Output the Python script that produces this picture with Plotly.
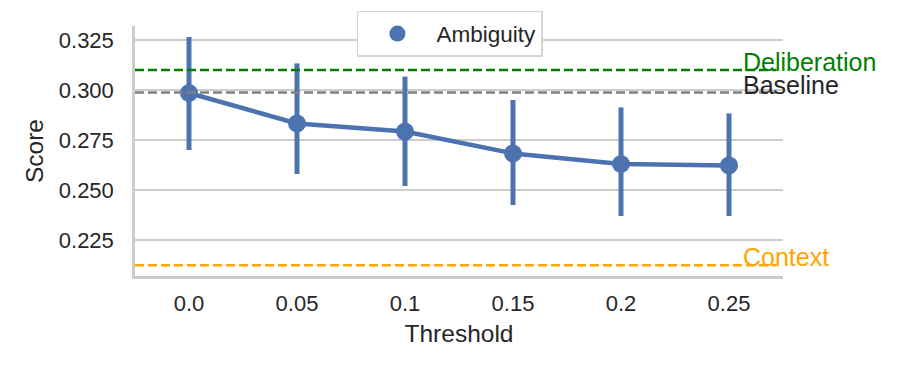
import plotly.graph_objects as go

# values
thresholds = ["0.0", "0.05", "0.1", "0.15", "0.2", "0.25"]
ambiguity_mean = [0.2985, 0.2833, 0.2792, 0.2683, 0.2630, 0.2623]
ambiguity_low = [0.2700, 0.2580, 0.2520, 0.2425, 0.2370, 0.2370]
ambiguity_high = [0.3265, 0.3133, 0.3067, 0.2950, 0.2913, 0.2883]

ref_names = ["Deliberation", "Baseline", "Context"]
ref_values = [0.3100, 0.2987, 0.2124]
ref_colors = ["green", "gray", "orange"]
ref_text_colors = ["green", "#262626", "orange"]

blue = "#4c72b0"
font = "Liberation Sans, Arial, sans-serif"

err_plus = [h - m for h, m in zip(ambiguity_high, ambiguity_mean)]
err_minus = [m - l for m, l in zip(ambiguity_mean, ambiguity_low)]

fig = go.Figure()

fig.add_trace(go.Scatter(
    x=thresholds,
    y=ambiguity_mean,
    mode="lines+markers",
    name="Ambiguity",
    line=dict(color=blue, width=4.5),
    marker=dict(color=blue, size=18),
    error_y=dict(type="data", symmetric=False, array=err_plus, arrayminus=err_minus,
                 color=blue, thickness=5, width=0),
    showlegend=False,
))
# legend entry: marker only, as in the reference
fig.add_trace(go.Scatter(
    x=[None], y=[None], mode="markers", name="Ambiguity",
    marker=dict(color=blue, size=18),
))

for name, val, col, tcol in zip(ref_names, ref_values, ref_colors, ref_text_colors):
    fig.add_shape(type="line", xref="paper", x0=0, x1=0.99, yref="y", y0=val, y1=val,
                  line=dict(color=col, width=2.5, dash="9px,4px"), layer="above")
    fig.add_annotation(x=0.935, xref="paper", y=val, yref="y", text=name,
                       showarrow=False, xanchor="left", yanchor="bottom", yshift=-8,
                       font=dict(color=tcol, size=25, family=font))

# the page body adds an 8px margin, so the figure is a little smaller
fig.update_layout(
    width=892, height=367,
    margin=dict(l=127, r=117, t=18, b=99, autoexpand=False),
    plot_bgcolor="white", paper_bgcolor="white",
    font=dict(family=font, color="#262626", size=22),
    legend=dict(x=0.486, xanchor="center", y=0.992, yref="container", yanchor="top",
                bordercolor="#d6d6d6", borderwidth=1.5, bgcolor="white",
                font=dict(size=22.5), itemwidth=68),
    xaxis=dict(
        title=dict(text="Threshold", font=dict(size=24.5), standoff=10),
        type="category", range=[-0.5, 5.5], automargin=False,
        showgrid=False, showline=True, linecolor="#cccccc", linewidth=2.5,
        ticks="", ticklabelstandoff=6, tickfont=dict(size=22),
    ),
    yaxis=dict(
        title=dict(text="Score", font=dict(size=24.5), standoff=9),
        range=[0.207, 0.332], dtick=0.025, tick0=0.225, tickformat=".3f",
        automargin=False,
        showgrid=True, gridcolor="#cccccc", gridwidth=2, zeroline=False,
        showline=True, linecolor="#cccccc", linewidth=2.5,
        ticks="", ticklabelstandoff=14, tickfont=dict(size=22),
    ),
)

fig.write_html("out.html")
